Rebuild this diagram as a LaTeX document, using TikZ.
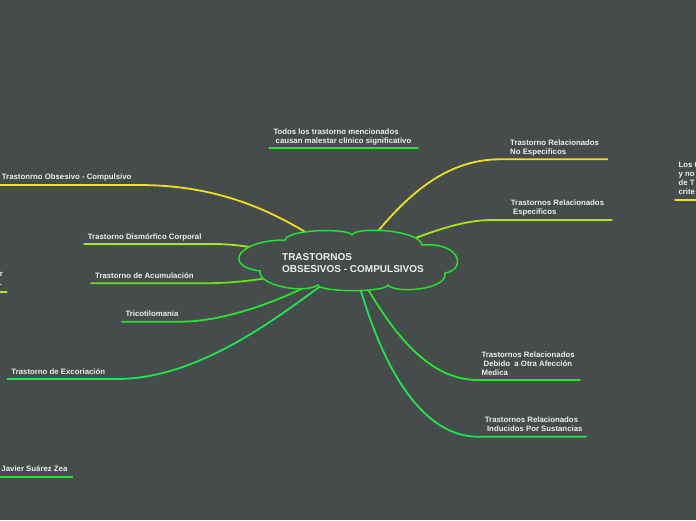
\documentclass[tikz,border=0pt]{standalone}
\usepackage{fontspec}
\setmainfont{Liberation Sans}
\usetikzlibrary{shapes.geometric,backgrounds}
\definecolor{bg}{RGB}{70,75,76}
\definecolor{labelwhite}{RGB}{238,238,238}
\definecolor{cloudgreen}{RGB}{35,226,52}
\definecolor{cyellow}{RGB}{238,226,24}
\definecolor{cyellowgreen}{RGB}{168,230,24}
\definecolor{clime}{RGB}{104,226,30}
\definecolor{cgreen}{RGB}{40,228,50}
\definecolor{cspring}{RGB}{30,230,80}
\begin{document}
\begin{tikzpicture}[x=1pt,y=-1pt,
    lbl/.style={anchor=base west,inner sep=0pt,align=left,text=labelwhite,
      font=\fontsize{7.8}{9}\selectfont\bfseries},
    lblr/.style={lbl,anchor=base east},
    branch/.style={line width=1.8pt,line cap=round}]
  \useasboundingbox (0,0) rectangle (696,520);

  % central topic: cloud outline, then the text node
  \draw[cloudgreen,fill=bg,line width=1.5pt] (285,240)
    .. controls (288,229) and (348,228) .. (352,235)
    .. controls (356,226) and (420,230) .. (422,245)
    .. controls (462,242) and (466,270) .. (445,273)
    .. controls (448,290) and (395,294) .. (388,285)
    .. controls (386,292.5) and (320,292.5) .. (318,285)
    .. controls (305,294) and (258,286) .. (260,271)
    .. controls (222,266) and (238,240) .. cycle;
  \node[ellipse,minimum width=190pt,minimum height=44pt,inner sep=0pt,align=left,
    text=labelwhite,font=\fontsize{10}{11.4}\selectfont\bfseries]
    (core) at (353,263) {TRASTORNOS\\OBSESIVOS - COMPULSIVOS};

  % labels (base = last line)
  \node[lbl] (todos) at (273.3,143.5) {Todos los trastorno mencionados\\~causan malestar clinico significativo};
  \node[lbl] (noesp) at (510,154) {Trastorno Relacionados\\No Especificos};
  \node[lbl] (esp) at (510.7,214.7) {Trastornos Relacionados\\~Especificos};
  \node[lbl] (ocd) at (1.7,179.7) {Trastonrno Obsesivo - Compulsivo};
  \node[lbl] (dism) at (87.7,239.3) {Trastorno Dismórfico Corporal};
  \node[lbl] (acum) at (95,278) {Trastorno de Acumulación};
  \node[lbl] (trico) at (125.3,316) {Tricotilomania};
  \node[lbl] (exco) at (11.3,374) {Trastorno de Excoriación};
  \node[lbl] (medica) at (481.3,375.3) {Trastornos Relacionados\\~Debido~~a Otra Afección\\Medica};
  \node[lbl] (sust) at (484.7,431.3) {Trastornos Relacionados\\~Inducidos Por Sustancias};
  \node[lbl] (autor) at (1.3,471.3) {Javier Suárez Zea};
  \node[lbl] (cutr) at (678.3,194.3) {Los t\\y no\\de T\\crite};
  \node[lblr] (cutl) at (3,285) {r\\.};

  % underline ends
  \coordinate (todos-a) at (269.3,148.3);   \coordinate (todos-b) at (418,148.3);
  \coordinate (noesp-a) at (500,159.3);     \coordinate (noesp-b) at (607.3,159.3);
  \coordinate (esp-a) at (492,220);         \coordinate (esp-b) at (612,220);
  \coordinate (ocd-a) at (138,185);         \coordinate (ocd-b) at (0,185);
  \coordinate (dism-a) at (213,244);        \coordinate (dism-b) at (84,244);
  \coordinate (acum-a) at (200,283.3);      \coordinate (acum-b) at (91,283.3);
  \coordinate (trico-a) at (180,321.7);     \coordinate (trico-b) at (121.7,321.7);
  \coordinate (exco-a) at (117,379);        \coordinate (exco-b) at (7.3,379);
  \coordinate (medica-a) at (478,380);      \coordinate (medica-b) at (580,380);
  \coordinate (sust-a) at (478,436.7);      \coordinate (sust-b) at (586,436.7);
  \coordinate (autor-a) at (0,476.7);       \coordinate (autor-b) at (72.3,476.7);
  \coordinate (cutr-a) at (675,200);        \coordinate (cutr-b) at (696,200);
  \coordinate (cutl-a) at (0,291.7);        \coordinate (cutl-b) at (6.7,291.7);

  \begin{scope}[on background layer]
    \fill[bg] (0,0) rectangle (696,520);
    % branches
    \draw[branch,cyellow] (core) .. controls (410,190) and (450,159.3) .. (noesp-a) -- (noesp-b);
    \draw[branch,cyellowgreen] (core) .. controls (445,226) and (470,220) .. (esp-a) -- (esp-b);
    \draw[branch,cyellow] (ocd-b) -- (ocd-a) .. controls (210,185) and (265,205) .. (core);
    \draw[branch,cyellowgreen] (dism-b) -- (dism-a) .. controls (228,244) and (238,245) .. (core);
    \draw[branch,clime] (acum-b) -- (acum-a) .. controls (230,283.3) and (250,281) .. (core);
    \draw[branch,cgreen] (trico-b) -- (trico-a) .. controls (220,321.7) and (270,305) .. (core);
    \draw[branch,cspring] (exco-b) -- (exco-a) .. controls (200,379) and (280,315) .. (core);
    \draw[branch,cgreen] (core) .. controls (400,345) and (435,380) .. (medica-a) -- (medica-b);
    \draw[branch,cspring] (core) .. controls (385,375) and (425,436.7) .. (sust-a) -- (sust-b);
    % floating topics
    \draw[branch,cgreen] (todos-a) -- (todos-b);
    \draw[branch,cgreen] (autor-a) -- (autor-b);
    \draw[branch,cyellow] (cutr-a) -- (cutr-b);
    \draw[branch,cyellowgreen] (cutl-a) -- (cutl-b);
  \end{scope}
\end{tikzpicture}
\end{document}
